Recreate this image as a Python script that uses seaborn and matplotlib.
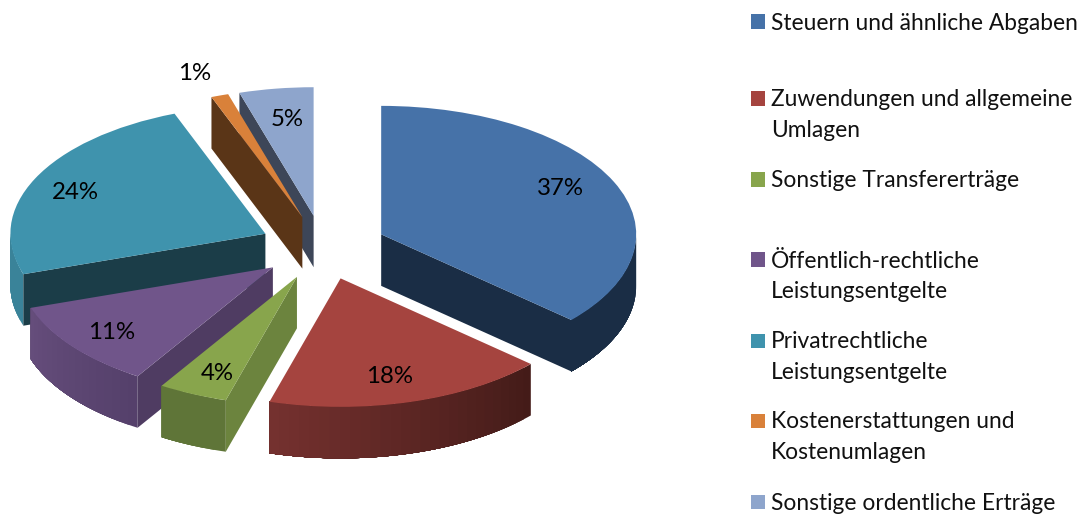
import numpy as np
import matplotlib
matplotlib.use("Agg")
import matplotlib.pyplot as plt
from matplotlib.colors import to_rgb
from matplotlib.patches import Rectangle
import seaborn as sns

# --- data ---
categories = ["Steuern und ähnliche Abgaben", "Zuwendungen und allgemeine\nUmlagen",
              "Sonstige Transfererträge", "Öffentlich-rechtliche\nLeistungsentgelte",
              "Privatrechtliche\nLeistungsentgelte", "Kostenerstattungen und\nKostenumlagen",
              "Sonstige ordentliche Erträge"]
shares = [36.6, 17.9, 4.4, 11.0, 24.3, 1.1, 4.7]

# --- style ---
top_colors = ["#4672A8", "#A5443F", "#88A54C", "#70558A", "#3F93AD", "#D9813A", "#8EA5CC"]
face_colors = ["#1A2D45", "#431B18", "#6C843E", "#4F3C62", "#1B3D48", "#5A3517", "#3D4658"]
rim_start = ["#1A2D45", "#431B18", "#5F7538", "#54406A", "#3A8399", "#5A3517", "#3D4658"]
rim_end = ["#1A2D45", "#75312F", "#5F7538", "#664D7C", "#3A8399", "#5A3517", "#3D4658"]
draw_rank = [4, 7, 6, 5, 3, 2, 1]
legend_rows = [23, 100, 181, 261, 342, 422, 503]
label_nudge_px = [(-5, -4), (-7, 1), (3, 4), (-3, 2), (-8, 2), (-8, 3), (3, 4)]

W, H = 1086, 517
RX, RY = 255.0, 128.5
CX, CY = 323.0, 247.5
DEPTH = 51.5 / RY
EXPLODE = 0.25

sns.set_theme(style="white")
plt.rcParams["font.family"] = ["Lato", "DejaVu Sans"]
palette = sns.color_palette(top_colors)

fig = plt.figure(figsize=(W / 100, H / 100), dpi=100)
ax = fig.add_axes([0, 0, 1, 1])

wedges, _, autotexts = ax.pie(
    shares, colors=palette, startangle=90, counterclock=False,
    explode=[EXPLODE] * len(shares), autopct="%1.0f%%", pctdistance=0.79,
    wedgeprops=dict(linewidth=0), textprops=dict(fontsize=17.3, color="black"))
ax.set_aspect("auto")
ax.set_xlim(-CX / RX, (W - CX) / RX)
ax.set_ylim(-(H - CY) / RY, CY / RY)
ax.set_axis_off()

edges = np.concatenate([[0], np.cumsum(shares)]) / sum(shares) * 2 * np.pi
for i, w in enumerate(wedges):
    z = draw_rank[i]
    w.set_zorder(z + 0.5)
    a0, a1 = edges[i], edges[i + 1]
    mid = (a0 + a1) / 2
    ox, oy = EXPLODE * np.sin(mid), EXPLODE * np.cos(mid)
    # visible cut faces of the extruded slice
    for ang, visible in ((a0, np.sin(a0) < -1e-6), (a1, np.sin(a1) > 1e-6)):
        if visible:
            xs = [ox, ox + np.sin(ang), ox + np.sin(ang), ox]
            ys = [oy, oy + np.cos(ang), oy + np.cos(ang) - DEPTH, oy - DEPTH]
            ax.fill(xs, ys, color=face_colors[i], lw=0, zorder=z + 0.2)
    # outer rim wall: overlapping sweeps, shaded along the arc
    lo, hi = max(a0, np.pi / 2), min(a1, 3 * np.pi / 2)
    if hi > lo:
        n = max(int((hi - lo) / 0.04), 2)
        angs = np.linspace(lo, hi, n + 1)
        c0, c1 = np.array(to_rgb(rim_start[i])), np.array(to_rgb(rim_end[i]))
        for k in range(n):
            t = (k + 0.5) / n
            seg = np.linspace(angs[k], hi, 2 * (n - k) + 1)
            x = ox + np.sin(seg)
            y = oy + np.cos(seg)
            ax.fill(np.r_[x, x[::-1]], np.r_[y, (y - DEPTH)[::-1]],
                    color=c0 + (c1 - c0) * t, lw=0, zorder=z + 0.1 + k * 1e-4)

# the small slice carries its label outside
small = shares.index(min(shares))
mid = (edges[small] + edges[small + 1]) / 2
autotexts[small].set_position(((EXPLODE + 1.21) * np.sin(mid), (EXPLODE + 1.21) * np.cos(mid)))
for t, (dx, dy) in zip(autotexts, label_nudge_px):
    t.set_zorder(20)
    px, py = t.get_position()
    t.set_position((px + dx / RX, py - dy / RY))

# legend
for name, col, row in zip(categories, palette, legend_rows):
    fig.add_artist(Rectangle((751 / W, 1 - (row + 5.5) / H), 14 / W, 14 / H,
                             transform=fig.transFigure, color=col, lw=0))
    for j, line in enumerate(name.split("\n")):
        fig.text(771 / W, 1 - (row + j * 30.5) / H, line, fontsize=16.4,
                 color="#111111", ha="left", va="center")

fig.savefig("out.png", dpi=100)
